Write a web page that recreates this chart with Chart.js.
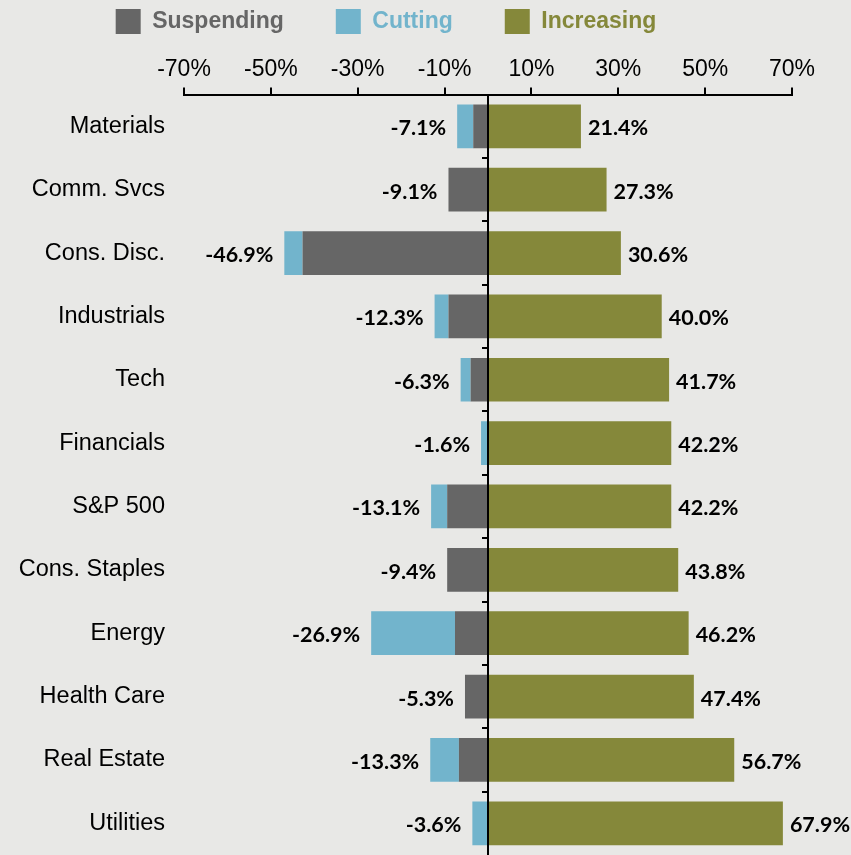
<!DOCTYPE html>
<html>
<head>
<meta charset="utf-8">
<script src="https://cdn.jsdelivr.net/npm/chart.js@4.4.1/dist/chart.umd.min.js"></script>
<style>
  html, body { margin: 0; padding: 0; background: #e8e8e6; }
  #wrap { width: 851px; height: 855px; }
</style>
</head>
<body>
<div id="wrap"><canvas id="myChart" width="851" height="855"></canvas></div>
<script>
// sector names, top to bottom
const sectors = ['Materials', 'Comm. Svcs', 'Cons. Disc.', 'Industrials', 'Tech', 'Financials',
  'S&P 500', 'Cons. Staples', 'Energy', 'Health Care', 'Real Estate', 'Utilities'];

// share of companies (%), negative = suspending / cutting
const suspending = [-3.4, -9.1, -42.7, -9.1, -4.0, 0, -9.4, -9.4, -7.6, -5.3, -6.7, 0];
const cutting = [-3.7, 0, -4.2, -3.2, -2.3, -1.6, -3.7, 0, -19.3, 0, -6.6, -3.6];
const increasing = [21.4, 27.3, 30.6, 40.0, 41.7, 42.2, 42.2, 43.8, 46.2, 47.4, 56.7, 67.9];

// printed totals
const negTotals = [-7.1, -9.1, -46.9, -12.3, -6.3, -1.6, -13.1, -9.4, -26.9, -5.3, -13.3, -3.6];

const xTicks = [-70, -50, -30, -10, 10, 30, 50, 70];

const colors = { suspending: '#666666', cutting: '#72b4cc', increasing: '#85883a' };

document.addEventListener("DOMContentLoaded", function () {
  const ctx = document.getElementById('myChart').getContext('2d');

  // zero line with little ticks between categories, plus the value labels
  const extras = {
    id: 'extras',
    afterInit(chart) {
      // keep the legend short so the axis sits right under it
      const leg = chart.legend;
      const origFit = leg.fit;
      leg.fit = function () {
        origFit.call(this);
        this.height = 95;
      };
    },
    afterDatasetsDraw(chart) {
      const c = chart.ctx;
      const x = chart.scales.x, y = chart.scales.y;
      const x0 = x.getPixelForValue(0);
      c.save();
      c.strokeStyle = '#000';
      c.lineWidth = 2;
      c.beginPath();
      c.moveTo(x0, chart.chartArea.top);
      c.lineTo(x0, chart.chartArea.bottom);
      c.stroke();
      for (let i = 0; i < sectors.length - 1; i++) {
        const yy = Math.round((y.getPixelForValue(i) + y.getPixelForValue(i + 1)) / 2);
        c.beginPath();
        c.moveTo(x0 - 6, yy);
        c.lineTo(x0, yy);
        c.stroke();
      }

      c.font = 'bold 21.5px Lato, "Open Sans", sans-serif';
      c.fillStyle = '#000';
      c.textBaseline = 'middle';
      sectors.forEach(function (s, i) {
        const yy = y.getPixelForValue(i) + 2;
        c.textAlign = 'right';
        c.fillText(negTotals[i].toFixed(1) + '%', x.getPixelForValue(negTotals[i]) - 11, yy);
        c.textAlign = 'left';
        c.fillText(increasing[i].toFixed(1) + '%', x.getPixelForValue(increasing[i]) + 7, yy);
      });
      c.restore();
    }
  };

  new Chart(ctx, {
    type: 'bar',
    data: {
      labels: sectors,
      datasets: [
        { label: 'Suspending', data: suspending, backgroundColor: colors.suspending },
        { label: 'Cutting', data: cutting, backgroundColor: colors.cutting },
        { label: 'Increasing', data: increasing, backgroundColor: colors.increasing }
      ]
    },
    plugins: [extras],
    options: {
      indexAxis: 'y',
      responsive: false,
      animation: false,
      layout: { padding: { left: -20, right: 59, top: -43, bottom: 0 } },
      datasets: { bar: { categoryPercentage: 1, barPercentage: 0.69, borderWidth: 0 } },
      plugins: {
        tooltip: { enabled: false },
        legend: {
          position: 'top',
          labels: {
            boxWidth: 25,
            boxHeight: 25,
            padding: 52,
            font: { family: '"Liberation Sans", Arial, sans-serif', size: 23, weight: 'bold' },
            generateLabels(chart) {
              return chart.data.datasets.map(function (ds, i) {
                return {
                  text: ds.label,
                  fillStyle: ds.backgroundColor,
                  strokeStyle: ds.backgroundColor,
                  lineWidth: 0,
                  fontColor: ds.backgroundColor,
                  datasetIndex: i
                };
              });
            }
          }
        }
      },
      scales: {
        x: {
          position: 'top',
          stacked: true,
          min: -70,
          max: 70,
          afterBuildTicks(scale) {
            scale.ticks = xTicks.map(v => ({ value: v }));
          },
          border: { display: true, color: '#000', width: 2 },
          grid: { drawOnChartArea: false, drawTicks: true, tickLength: 7, color: '#000', lineWidth: 2 },
          ticks: {
            autoSkip: false,
            maxRotation: 0,
            padding: 4,
            color: '#000',
            font: { family: '"Liberation Sans", Arial, sans-serif', size: 23 },
            callback: v => v + '%'
          }
        },
        y: {
          stacked: true,
          afterFit(scale) {
            scale.width = 204;
            scale.paddingTop = 0;
            scale.paddingBottom = 0;
          },
          border: { display: false },
          grid: { display: false, drawTicks: true, tickLength: 19 },
          ticks: {
            padding: 0,
            color: '#000',
            font: { family: '"Liberation Sans", Arial, sans-serif', size: 23.5 }
          }
        }
      }
    }
  });
});
</script>
</body>
</html>
